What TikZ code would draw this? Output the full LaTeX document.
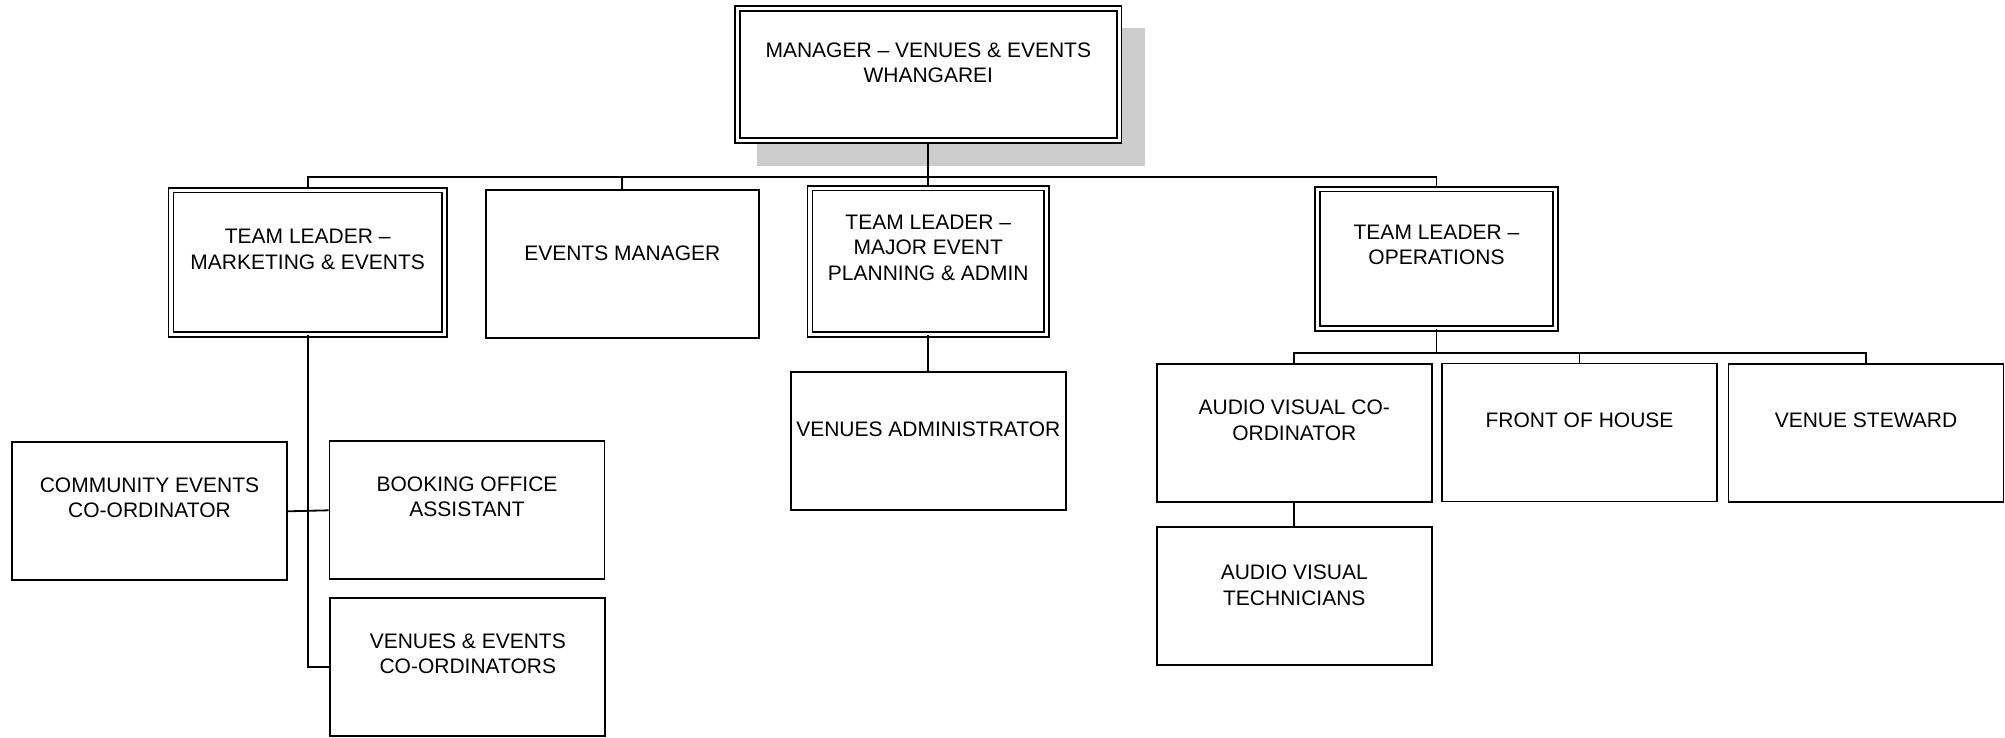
\documentclass[tikz,border=0pt]{standalone}
\usepackage{fontspec}
\setmainfont{Liberation Sans}
\definecolor{shadowgray}{HTML}{CCCCCC}
\begin{document}
\begin{tikzpicture}[x=1pt,y=-1pt,
  box/.style={draw, fill=white, line width=1.8pt, inner sep=0pt, minimum width=275pt, minimum height=138pt},
  dbox/.style={draw, fill=white, double, double distance=3.2pt, line width=1.7pt, inner sep=0pt},
  txt/.style={anchor=north, align=center, inner sep=0pt, font=\fontsize{21}{25.3}\selectfont},
  conn/.style={line width=1.8pt}]
\useasboundingbox (0,0) rectangle (2005,738);

% shadow of the top box
\fill[shadowgray] (757.3,28.3) rectangle (1145,165.7);

% boxes
\node[dbox, minimum width=381.7pt, minimum height=132.5pt] (mgr) at (928.3,74.5) {};
\node[dbox, minimum width=273.5pt, minimum height=144pt] (tlm) at (307.7,262.2) {};
\node[box, minimum width=272.7pt, minimum height=147.7pt] (em) at (622.3,263.8) {};
\node[dbox, minimum width=236.8pt, minimum height=146pt] (tlmaj) at (928.3,261.2) {};
\node[dbox, minimum width=238pt, minimum height=139pt] (tlops) at (1436.5,258.7) {};
\node[box, minimum width=274.6pt, minimum height=138.3pt] (va) at (928.3,440.8) {};
\node[box] (avc) at (1294.3,433) {};
\node[box] (foh) at (1579.5,432.5) {};
\node[box] (vs) at (1866,433.3) {};
\node[box] (avt) at (1294.3,596.3) {};
\node[box] (ce) at (149.5,511.3) {};
\node[box] (boa) at (467,510.3) {};
\node[box] (vec) at (467.8,667) {};

% connectors
\coordinate (bus) at (928.3,176.7);
\coordinate (sub) at (1436.5,352.7);
\draw[conn] (mgr.south) -- (bus);
\draw[conn] (tlm.north) |- (bus) -| (tlops.north);
\draw[conn] (em.north) -- (em.north |- bus);
\draw[conn] (tlmaj.north) -- (bus);
\draw[conn] (tlmaj.south) -- (va.north);
\draw[conn] (tlm.south) |- (vec.west);
\draw[conn] (ce.east) -- (boa.west);
\draw[conn] (tlops.south) -- (sub);
\draw[conn] (avc.north) |- (sub) -| (vs.north);
\draw[conn] (foh.north) -- (foh.north |- sub);
\draw[conn] (avc.south) -- (avt.north);

% texts
\node[txt] (mgrT) at (928.3,42.7) {MANAGER – VENUES \& EVENTS\\WHANGAREI};
\node[txt] (tlmT) at (307.7,229.3) {TEAM LEADER –\\MARKETING \& EVENTS};
\node[txt] (emT) at (622.3,246) {EVENTS MANAGER};
\node[txt] (tlmajT) at (928.3,215) {TEAM LEADER –\\MAJOR EVENT\\PLANNING \& ADMIN};
\node[txt] (tlopsT) at (1436.5,225) {TEAM LEADER –\\OPERATIONS};
\node[txt] (vaT) at (928.3,421.7) {VENUES ADMINISTRATOR};
\node[txt] (avcT) at (1294.3,400) {AUDIO VISUAL CO-\\ORDINATOR};
\node[txt] (fohT) at (1579.5,412.3) {FRONT OF HOUSE};
\node[txt] (vsT) at (1866,413) {VENUE STEWARD};
\node[txt] (avtT) at (1294.3,565) {AUDIO VISUAL\\TECHNICIANS};
\node[txt] (ceT) at (149.5,477.7) {COMMUNITY EVENTS\\CO-ORDINATOR};
\node[txt] (boaT) at (467,476.7) {BOOKING OFFICE\\ASSISTANT};
\node[txt] (vecT) at (467.8,633.3) {VENUES \& EVENTS\\CO-ORDINATORS};
\end{tikzpicture}
\end{document}
